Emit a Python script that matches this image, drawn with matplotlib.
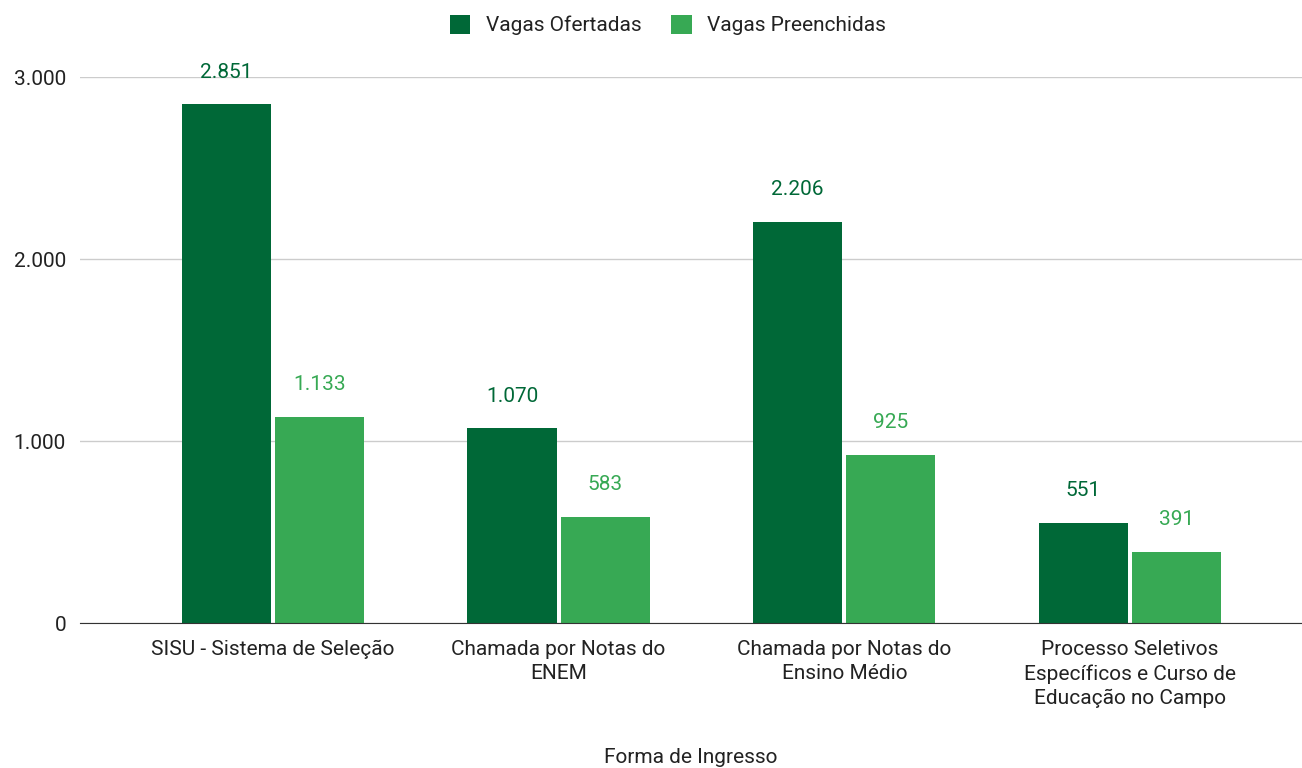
import matplotlib.pyplot as plt
import numpy as np

plt.rcParams['font.family'] = ['Roboto', 'DejaVu Sans']

categorias = ['SISU - Sistema de Seleção',
              'Chamada por Notas do\nENEM',
              'Chamada por Notas do\nEnsino Médio',
              'Processo Seletivos\nEspecíficos e Curso de\nEducação no Campo']
ofertadas = [2851, 1070, 2206, 551]
preenchidas = [1133, 583, 925, 391]

cor_ofert = '#006837'
cor_preen = '#37a954'
fs = 15


def fmt(v):
    return f"{v:,}".replace(",", ".")


fig = plt.figure(figsize=(13.02, 7.68), dpi=100)
ax = fig.add_axes([0.0614, 0.1888, 0.9386, 0.7109])

x = np.arange(len(categorias))
larg = 0.312
desl = 0.163
b1 = ax.bar(x - desl, ofertadas, larg, color=cor_ofert, label='Vagas Ofertadas', zorder=3)
b2 = ax.bar(x + desl, preenchidas, larg, color=cor_preen, label='Vagas Preenchidas', zorder=3)

for barras, cor in ((b1, cor_ofert), (b2, cor_preen)):
    for b in barras:
        h = b.get_height()
        ax.annotate(fmt(int(h)), (b.get_x() + b.get_width() / 2, h),
                    xytext=(0, 23), textcoords='offset points',
                    ha='center', va='center', color=cor, fontsize=fs, clip_on=False)

ax.set_xlim(-0.6755, 3.602)
ax.set_ylim(0, 3000)
ax.set_yticks([0, 1000, 2000, 3000])
ax.set_yticklabels([fmt(v) for v in [0, 1000, 2000, 3000]])
ax.set_xticks(x)
ax.set_xticklabels(categorias, linespacing=1.35)
ax.tick_params(axis='both', length=0, labelsize=fs, colors='#222222', pad=10)
ax.tick_params(axis='x', pad=12)
ax.yaxis.grid(True, color='#cccccc', linewidth=1, zorder=0)
for s in ['top', 'right', 'left']:
    ax.spines[s].set_visible(False)
ax.spines['bottom'].set_color('#333333')
ax.spines['bottom'].set_zorder(4)

ax.set_xlabel('Forma de Ingresso', fontsize=fs, color='#222222', labelpad=29)

fig.legend(handles=[b1, b2], loc='upper center', bbox_to_anchor=(0.513, 1.005), ncol=2,
           frameon=False, fontsize=fs, handlelength=1.0, handleheight=1.0,
           columnspacing=1.4, handletextpad=0.75, labelcolor='#222222')

fig.savefig('out.png', dpi=100)
